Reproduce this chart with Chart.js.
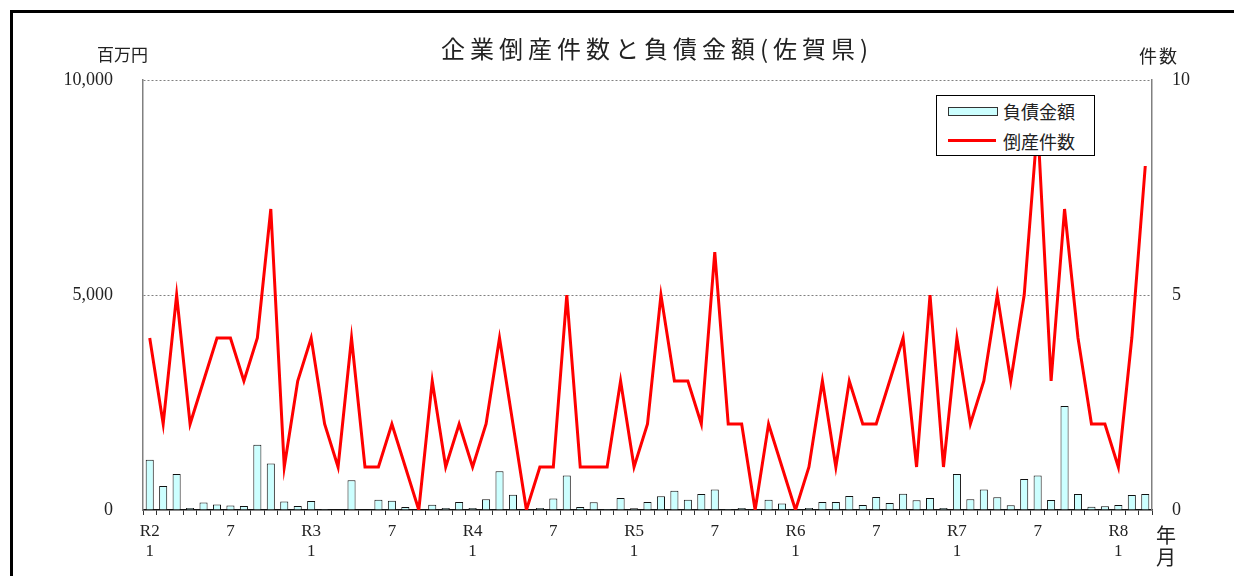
<!DOCTYPE html>
<html>
<head>
<meta charset="utf-8">
<script src="https://cdn.jsdelivr.net/npm/chart.js@4"></script>
<style>
  body { margin: 0; background: #fff; width: 1234px; height: 576px; overflow: hidden; position: relative; }
  #frame { position: absolute; left: 10px; top: 10px; width: 1400px; height: 700px; border-left: 3px solid #000; border-top: 3px solid #000; }
  #wrap { position: absolute; left: 0; top: 0; width: 1234px; height: 576px; }
  .txt { position: absolute; font-family: "Noto Sans CJK JP", sans-serif; color: #222; white-space: nowrap; line-height: 1; }
  #title { left: 441px; top: 36px; font-size: 24px; letter-spacing: 5px; }
  #unitL { left: 97px; top: 45px; font-size: 17px; }
  #unitR { left: 1139px; top: 46px; font-size: 18px; letter-spacing: 2px; }
  #ym { left: 1156px; top: 524px; font-size: 20px; line-height: 22px; }
  #legend { position: absolute; left: 936px; top: 95px; width: 157px; height: 59px; border: 1px solid #000; background: #fff; }
  .row { position: absolute; left: 11px; height: 24px; }
  .row span { position: absolute; left: 55px; top: 2px; font-family: "Noto Sans CJK JP", sans-serif; font-size: 18px; line-height: 20px; color: #222; white-space: nowrap; }
</style>
</head>
<body>
<div id="frame"></div>
<div id="wrap"><canvas id="chart" width="1234" height="576"></canvas></div>
<div class="txt" id="title">企業倒産件数と負債金額(佐賀県)</div>
<div class="txt" id="unitL">百万円</div>
<div class="txt" id="unitR">件数</div>
<div class="txt" id="ym">年<br>月</div>
<div id="legend"></div>
<script>
// 年度(令和)ごとの月数 R2/1 〜 R8/3
const eras = ['R2', 'R3', 'R4', 'R5', 'R6', 'R7', 'R8'];
const monthsInEra = [12, 12, 12, 12, 12, 12, 3];

// 負債金額 (百万円)
const debtAmount = [
  1170, 560, 840, 45, 175, 130, 105, 95, 1520, 1080, 200, 95,
  210, 25, 15, 690, 15, 240, 215, 70, 0, 125, 45, 185,
  45, 250, 900, 355, 0, 45, 265, 800, 70, 180, 25, 280,
  40, 185, 320, 450, 240, 375, 475, 25, 45, 0, 240, 150,
  0, 45, 185, 185, 325, 115, 300, 165, 380, 225, 280, 45,
  840, 250, 475, 295, 110, 720, 805, 235, 2420, 370, 75, 85,
  115, 350, 370
];

// 倒産件数
const bankruptcies = [
  4, 2, 5, 2, 3, 4, 4, 3, 4, 7, 1, 3,
  4, 2, 1, 4, 1, 1, 2, 1, 0, 3, 1, 2,
  1, 2, 4, 2, 0, 1, 1, 5, 1, 1, 1, 3,
  1, 2, 5, 3, 3, 2, 6, 2, 2, 0, 2, 1,
  0, 1, 3, 1, 3, 2, 2, 3, 4, 1, 5, 1,
  4, 2, 3, 5, 3, 5, 9, 3, 7, 4, 2, 2,
  1, 4, 8
];

const leftTicks = [0, 5000, 10000];
const rightTicks = [0, 5, 10];

// category labels: era + month on January, "7" on July, blank otherwise
const labels = [];
eras.forEach((era, i) => {
  for (let m = 1; m <= monthsInEra[i]; m++) {
    if (m === 1) labels.push([era, '1']);
    else if (m === 7) labels.push('7');
    else labels.push('');
  }
});

const tickFont = { family: 'Liberation Serif', size: 18 };

const chart = new Chart(document.getElementById('chart'), {
  type: 'bar',
  data: {
    labels: labels,
    datasets: [{
      label: '負債金額',
      data: debtAmount,
      backgroundColor: '#ccffff',
      borderColor: '#111',
      borderWidth: 1,
      barPercentage: 0.6,
      categoryPercentage: 1.0,
      yAxisID: 'y',
      order: 2
    }, {
      type: 'line',
      label: '倒産件数',
      data: bankruptcies,
      borderColor: '#ff0000',
      borderWidth: 3,
      pointRadius: 0,
      tension: 0,
      yAxisID: 'y1',
      order: 1
    }]
  },
  options: {
    responsive: false,
    animation: false,
    events: [],
    layout: { padding: { top: 80, left: 0, right: 0, bottom: 0 } },
    plugins: { legend: { display: false }, title: { display: false }, tooltip: { enabled: false } },
    scales: {
      x: {
        offset: true,
        grid: { offset: true, drawOnChartArea: false, drawTicks: true, tickLength: 5, color: '#333', lineWidth: 1 },
        border: { color: '#111', width: 1.5 },
        ticks: {
          autoSkip: false, maxRotation: 0, padding: 7, color: '#222',
          font: { family: 'Liberation Serif', size: 17, lineHeight: '20px' }
        },
        afterFit: s => { s.height = 66; }
      },
      y: {
        position: 'left',
        min: leftTicks[0], max: leftTicks[2],
        afterBuildTicks: s => { s.ticks = leftTicks.map(v => ({ value: v })); },
        grid: {
          drawTicks: false,
          color: c => (c.tick && c.tick.value === 0) ? 'rgba(0,0,0,0)' : '#808080',
          lineWidth: 1
        },
        border: { color: '#808080', width: 1.5, dash: [2, 2] },
        ticks: {
          padding: 30, color: '#222', font: tickFont,
          callback: v => v.toLocaleString('en-US')
        },
        afterFit: s => { s.width = 143; }
      },
      y1: {
        position: 'right',
        min: rightTicks[0], max: rightTicks[2],
        afterBuildTicks: s => { s.ticks = rightTicks.map(v => ({ value: v })); },
        grid: { drawOnChartArea: false, drawTicks: false },
        border: { color: '#808080', width: 1.5 },
        ticks: { padding: 20, color: '#222', font: tickFont },
        afterFit: s => { s.width = 82; }
      }
    }
  }
});

// legend box built from the chart's datasets
const legend = document.getElementById('legend');
chart.data.datasets.forEach((ds, i) => {
  const row = document.createElement('div');
  row.className = 'row';
  row.style.top = (i === 0 ? 3 : 33) + 'px';
  const mark = document.createElement('div');
  mark.style.position = 'absolute';
  mark.style.left = '0px';
  mark.style.width = '48px';
  if (ds.type === 'line') {
    mark.style.top = '10px';
    mark.style.height = '3px';
    mark.style.background = ds.borderColor;
  } else {
    mark.style.top = '8px';
    mark.style.height = '7px';
    mark.style.background = ds.backgroundColor;
    mark.style.border = '1px solid #333';
  }
  const text = document.createElement('span');
  text.textContent = ds.label;
  row.appendChild(mark);
  row.appendChild(text);
  legend.appendChild(row);
});
</script>
</body>
</html>
